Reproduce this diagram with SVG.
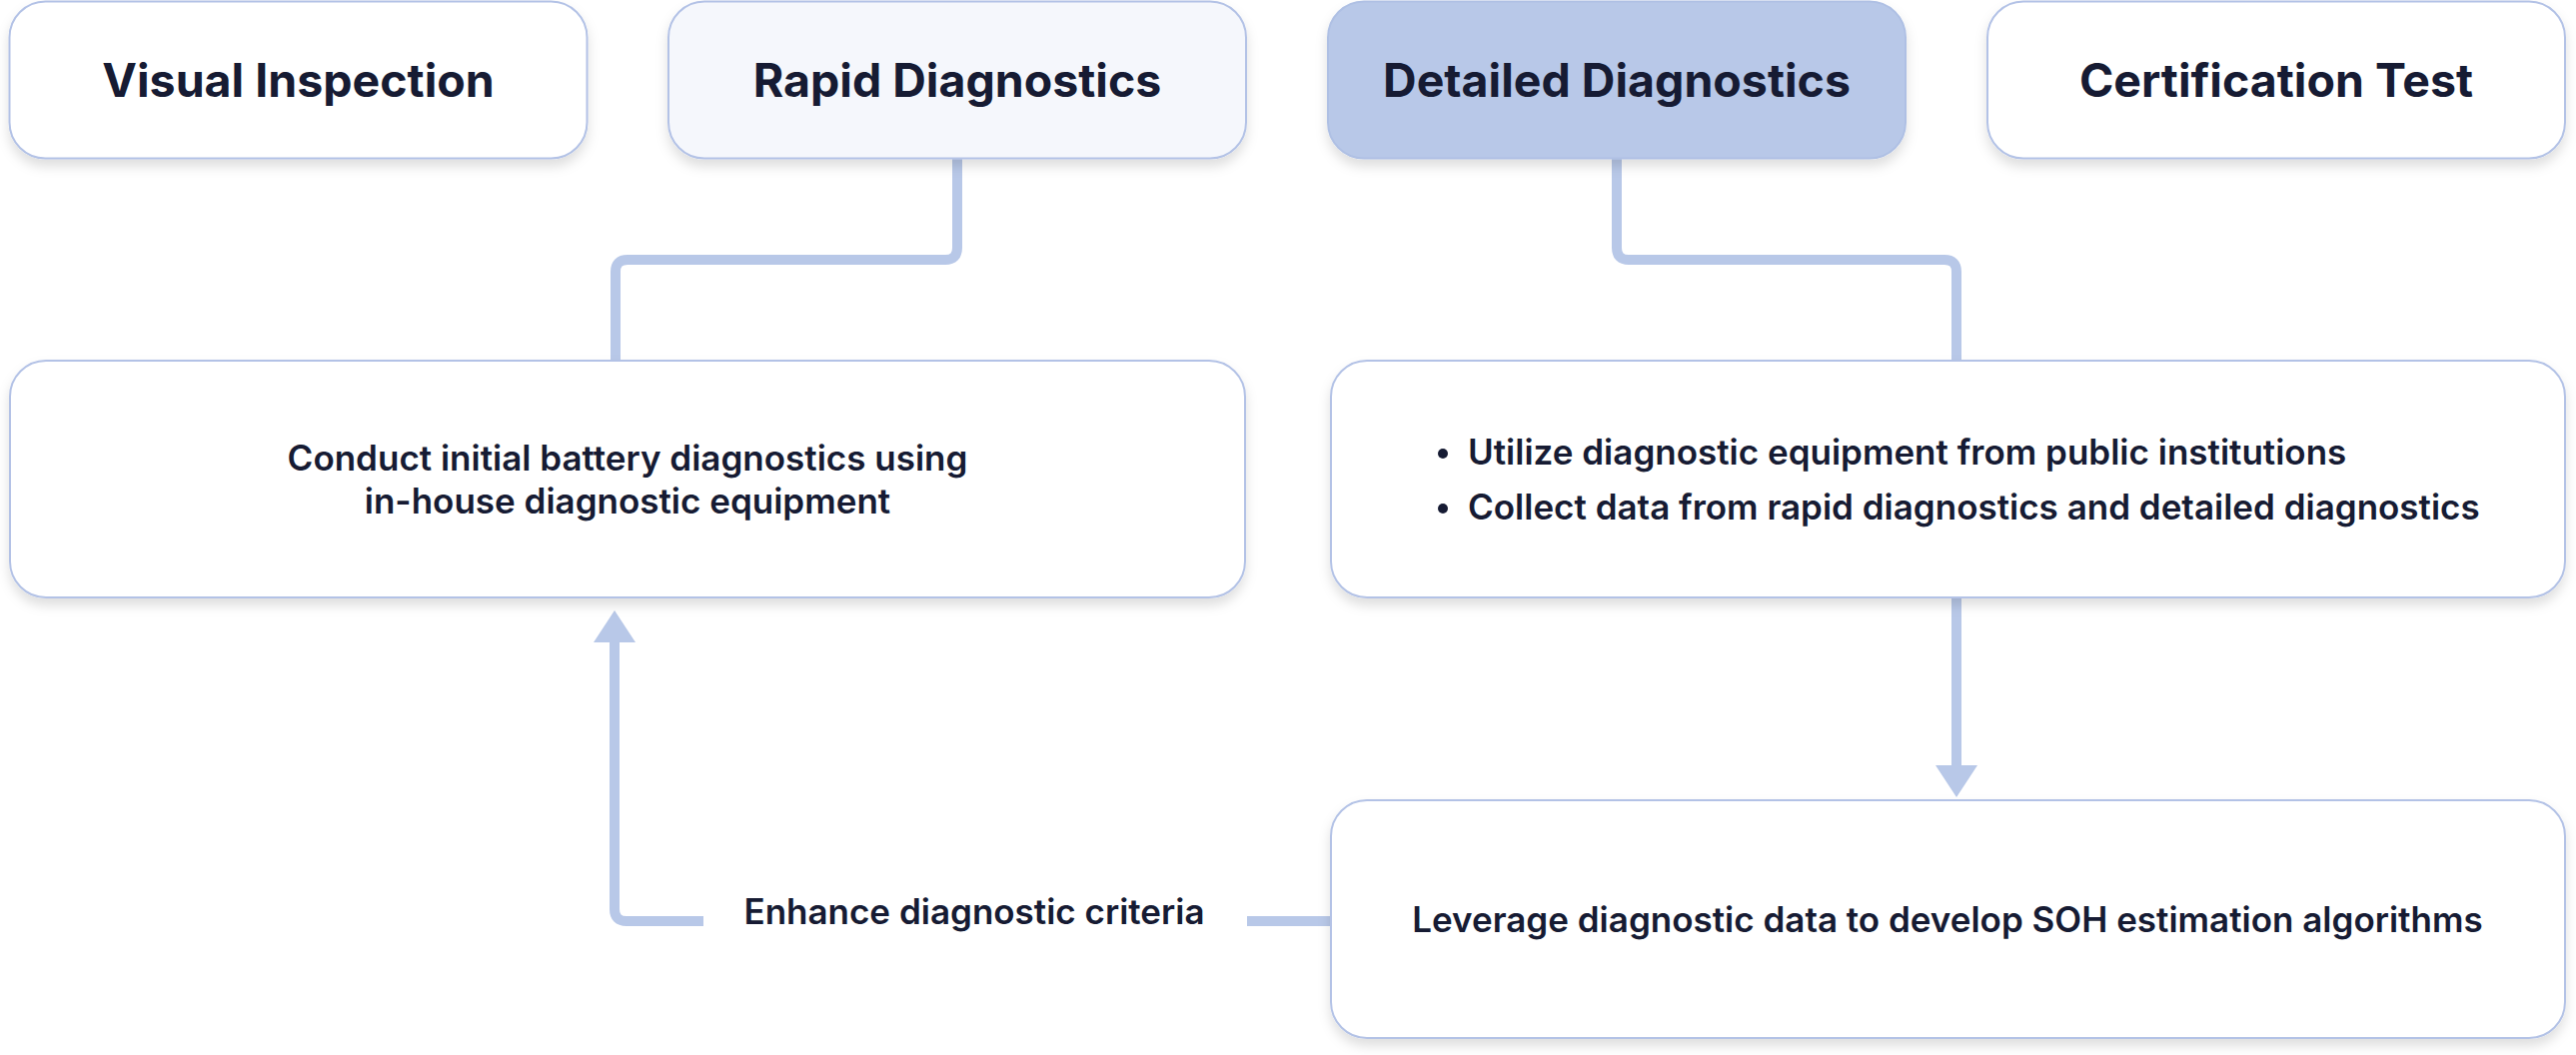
<svg xmlns="http://www.w3.org/2000/svg" width="2578" height="1056" viewBox="0 0 2578 1056">
<defs>
<filter id="sh" x="-10%" y="-20%" width="120%" height="150%">
<feDropShadow dx="0" dy="7" stdDeviation="6" flood-color="#000" flood-opacity="0.13"/>
</filter>
<marker id="ah" markerUnits="userSpaceOnUse" markerWidth="32" markerHeight="42" refX="0" refY="21" orient="auto" viewBox="0 0 32 42">
<path d="M0,0 L32,21 L0,42 Z" fill="#B8C8E8"/>
</marker>
<style>
.box{fill:#FFFFFF;stroke:#B3C2E6;stroke-width:2;filter:url(#sh)}
.light{fill:#F5F7FC}
.dark{fill:#B8C8E8;stroke:#AFC0E4}
.t{font-family:Inter,"Noto Sans","Liberation Sans",sans-serif;fill:#161B33;text-anchor:middle}
.h{font-size:46.5px;font-weight:700}
.b{font-size:35px;font-weight:600}
.c{fill:none;stroke:#B8C8E8;stroke-width:10}
</style>
</defs>
<g id="connectors">
<path class="c" d="M958 159 V248 Q958 260 946 260 H628 Q616 260 616 272 V363"/>
<path class="c" d="M1618 159 V248 Q1618 260 1630 260 H1946 Q1958 260 1958 272 V363"/>
<path class="c" d="M1958 598 V766" marker-end="url(#ah)"/>
<path class="c" d="M1331 922 H1248"/>
<path class="c" d="M704 922 H627 Q615 922 615 910 V643" marker-end="url(#ah)"/>
</g>
<g id="visual-inspection">
<rect class="box" x="9.5" y="1.5" width="578" height="157" rx="36"/>
<text class="t h" x="298.5" y="97">Visual Inspection</text>
</g>
<g id="rapid-diagnostics">
<rect class="box light" x="669" y="1.5" width="578" height="157" rx="36"/>
<text class="t h" x="958" y="97">Rapid Diagnostics</text>
</g>
<g id="detailed-diagnostics">
<rect class="box dark" x="1329" y="1.5" width="578" height="157" rx="36"/>
<text class="t h" x="1618" y="97">Detailed Diagnostics</text>
</g>
<g id="certification-test">
<rect class="box" x="1989" y="1.5" width="578" height="157" rx="36"/>
<text class="t h" x="2278" y="97">Certification Test</text>
</g>
<g id="in-house">
<rect class="box" x="10" y="361" width="1236" height="237" rx="36"/>
<text class="t b" x="628" y="471">Conduct initial battery diagnostics using</text>
<text class="t b" x="628" y="514">in-house diagnostic equipment</text>
</g>
<g id="public-institutions">
<rect class="box" x="1332" y="361" width="1235" height="237" rx="36"/>
<circle cx="1444" cy="454" r="5" fill="#161B33"/>
<text class="t b" x="1469" y="465" style="text-anchor:start">Utilize diagnostic equipment from public institutions</text>
<circle cx="1444" cy="509" r="5" fill="#161B33"/>
<text class="t b" x="1469" y="520" style="text-anchor:start">Collect data from rapid diagnostics and detailed diagnostics</text>
</g>
<g id="soh-algorithms">
<rect class="box" x="1332" y="801" width="1235" height="238" rx="36"/>
<text class="t b" x="1949" y="933">Leverage diagnostic data to develop SOH estimation algorithms</text>
</g>
<g id="feedback-label">
<text class="t b" x="975" y="925">Enhance diagnostic criteria</text>
</g>
</svg>
